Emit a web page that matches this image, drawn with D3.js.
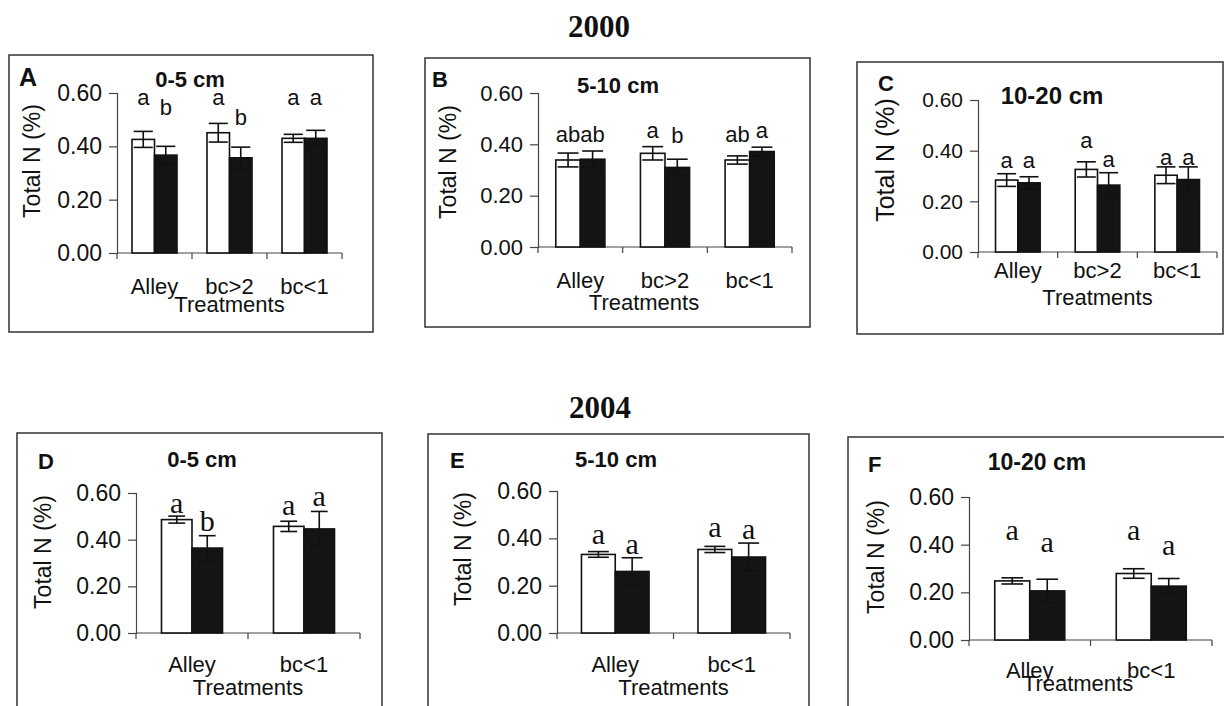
<!DOCTYPE html>
<html>
<head>
<meta charset="utf-8">
<script src="https://cdn.jsdelivr.net/npm/d3@7"></script>
<style>
  html, body { margin: 0; padding: 0; background: #fff; }
  svg { display: block; }
  text { font-family: "Liberation Sans", Arial, sans-serif; fill: #111; }
</style>
</head>
<body>
<svg id="chart" width="1224" height="706"></svg>
<script>
// ---------------- DATA ----------------
const yearTitles = ["2000", "2004"];
const panelLetters = ["A", "B", "C", "D", "E", "F"];
const depthLabels = ["0-5 cm", "5-10 cm", "10-20 cm", "0-5 cm", "5-10 cm", "10-20 cm"];
const categories2000 = ["Alley", "bc>2", "bc<1"];
const categories2004 = ["Alley", "bc<1"];
const yTickValues = [0.00, 0.20, 0.40, 0.60];
const xTitle = "Treatments";
const yTitle = "Total N (%)";

// Open (white) and solid (black) bars: means, standard errors, letters, letter heights
const openA = [0.426, 0.451, 0.430],  openErrA = [0.030, 0.035, 0.015];
const solidA = [0.367, 0.357, 0.430], solidErrA = [0.033, 0.040, 0.030];
const openLetA = ["a", "a", "a"],     solidLetA = ["b", "b", "a"];
const openLetYA = [0.555, 0.555, 0.555], solidLetYA = [0.518, 0.480, 0.555];

const openB = [0.339, 0.365, 0.339],  openErrB = [0.027, 0.026, 0.016];
const solidB = [0.342, 0.310, 0.372], solidErrB = [0.032, 0.032, 0.017];
const openLetB = ["ab", "a", "ab"],   solidLetB = ["ab", "b", "a"];
const openLetYB = [0.410, 0.424, 0.410], solidLetYB = [0.410, 0.404, 0.424];

const openC = [0.284, 0.326, 0.303],  openErrC = [0.025, 0.030, 0.033];
const solidC = [0.273, 0.264, 0.286], solidErrC = [0.024, 0.049, 0.050];
const openLetC = ["a", "a", "a"],     solidLetC = ["a", "a", "a"];
const openLetYC = [0.330, 0.409, 0.343], solidLetYC = [0.330, 0.336, 0.343];

const openD = [0.486, 0.457],  openErrD = [0.015, 0.022];
const solidD = [0.364, 0.446], solidErrD = [0.053, 0.075];
const openLetD = ["a", "a"],   solidLetD = ["b", "a"];
const openLetYD = [0.514, 0.507], solidLetYD = [0.436, 0.543];

const openE = [0.332, 0.353],  openErrE = [0.012, 0.013];
const solidE = [0.260, 0.321], solidErrE = [0.058, 0.059];
const openLetE = ["a", "a"],   solidLetE = ["a", "a"];
const openLetYE = [0.377, 0.405], solidLetYE = [0.332, 0.398];

const openF = [0.248, 0.279],  openErrF = [0.013, 0.020];
const solidF = [0.206, 0.226], solidErrF = [0.049, 0.032];
const openLetF = ["a", "a"],   solidLetF = ["a", "a"];
const openLetYF = [0.418, 0.418], solidLetYF = [0.370, 0.356];

// ---------------- LAYOUT (styling / positions) ----------------
const layout = [
  { box:[9,55,373,332],   x0:117, x1:342,  y0:253, y1:93,  grp:0.60, cap:0.85, tick:23, cat:22, catDy:41, trDy:59, trX:null, title:[190,87,22],  letter:[19,86],  yt:[40,161], ytSize:23, letFont:"sans", letSize:22 },
  { box:[425,58,810,327], x0:538, x1:792,  y0:247, y1:93,  grp:0.58, cap:0.85, tick:22, cat:22, catDy:41, trDy:63, trX:644, title:[618,93,22], letter:[432,87], yt:[456,162], ytSize:23, letFont:"sans", letSize:22 },
  { box:[857,62,1223,334],x0:978, x1:1217, y0:252, y1:100, grp:0.56, cap:0.85, tick:21, cat:22, catDy:26, trDy:53, trX:null, title:[1052,104,24],letter:[878,91], yt:[894,160], ytSize:25, letFont:"sans", letSize:22 },
  { box:[17,433,382,720], x0:136, x1:360,  y0:633, y1:493, grp:0.545,cap:0.55, tick:23, cat:22, catDy:39, trDy:62, trX:null, title:[202,467,22], letter:[38,469], yt:[51,552], ytSize:23, letFont:"serif", letSize:30 },
  { box:[428,434,809,720],x0:557, x1:790,  y0:633, y1:491, grp:0.58, cap:0.62, tick:23, cat:22, catDy:39, trDy:62, trX:null, title:[616,467,22], letter:[450,468],yt:[471,549], ytSize:23, letFont:"serif", letSize:30 },
  { box:[848,437,1230,720],x0:969,x1:1212, y0:640, y1:497, grp:0.576,cap:0.62, tick:23, cat:22, catDy:38, trDy:51, trX:1078, title:[1037,470,23],letter:[868,472],yt:[884,557], ytSize:23, letFont:"serif", letSize:30 }
];

const panelData = [
  { cats: categories2000, open: openA, openErr: openErrA, solid: solidA, solidErr: solidErrA, oL: openLetA, sL: solidLetA, oLY: openLetYA, sLY: solidLetYA },
  { cats: categories2000, open: openB, openErr: openErrB, solid: solidB, solidErr: solidErrB, oL: openLetB, sL: solidLetB, oLY: openLetYB, sLY: solidLetYB },
  { cats: categories2000, open: openC, openErr: openErrC, solid: solidC, solidErr: solidErrC, oL: openLetC, sL: solidLetC, oLY: openLetYC, sLY: solidLetYC },
  { cats: categories2004, open: openD, openErr: openErrD, solid: solidD, solidErr: solidErrD, oL: openLetD, sL: solidLetD, oLY: openLetYD, sLY: solidLetYD },
  { cats: categories2004, open: openE, openErr: openErrE, solid: solidE, solidErr: solidErrE, oL: openLetE, sL: solidLetE, oLY: openLetYE, sLY: solidLetYE },
  { cats: categories2004, open: openF, openErr: openErrF, solid: solidF, solidErr: solidErrF, oL: openLetF, sL: solidLetF, oLY: openLetYF, sLY: solidLetYF }
];

// ---------------- DRAW ----------------
const svg = d3.select("#chart");
svg.append("rect").attr("width", 1224).attr("height", 706).attr("fill", "#fff");

const yearPos = [[599, 37], [600, 418]];
yearTitles.forEach((t, i) => {
  svg.append("text").attr("x", yearPos[i][0]).attr("y", yearPos[i][1])
    .attr("text-anchor", "middle")
    .style("font-family", '"Liberation Serif", "Times New Roman", serif')
    .style("font-weight", "bold").style("font-size", "31px").text(t);
});

panelData.forEach((pd, i) => {
  const L = layout[i];
  const g = svg.append("g");

  // frame
  g.append("rect")
    .attr("x", L.box[0]).attr("y", L.box[1])
    .attr("width", L.box[2] - L.box[0]).attr("height", L.box[3] - L.box[1])
    .attr("fill", "none").attr("stroke", "#333").attr("stroke-width", 1.5);

  const x = d3.scaleBand().domain(pd.cats).range([L.x0, L.x1]).padding(0);
  const bw = x.bandwidth();
  const sub = d3.scaleBand().domain(["open", "solid"])
    .range([bw * (1 - L.grp) / 2, bw * (1 + L.grp) / 2]).padding(0);
  const y = d3.scaleLinear().domain([0, 0.6]).range([L.y0, L.y1]);

  // y axis
  const yAxis = g.append("g").attr("transform", `translate(${L.x0},0)`)
    .call(d3.axisLeft(y).tickValues(yTickValues).tickFormat(d3.format(".2f")).tickSize(8).tickPadding(7));
  yAxis.select(".domain").attr("stroke", "#444").attr("stroke-width", 1.2);
  yAxis.selectAll(".tick line").attr("stroke", "#444").attr("stroke-width", 1.2);
  yAxis.selectAll(".tick text").style("font-size", L.tick + "px")
    .style("font-family", '"Liberation Sans", Arial, sans-serif').attr("fill", "#111");

  // x axis: ticks at band boundaries
  const bounds = pd.cats.map(c => x(c)).concat([L.x1]);
  g.append("line").attr("x1", L.x0).attr("x2", L.x1).attr("y1", L.y0).attr("y2", L.y0)
    .attr("stroke", "#444").attr("stroke-width", 1.2);
  g.selectAll(".xt").data(bounds).enter().append("line")
    .attr("x1", d => d).attr("x2", d => d).attr("y1", L.y0).attr("y2", L.y0 + 6)
    .attr("stroke", "#444").attr("stroke-width", 1.2);

  // category labels
  g.selectAll(".cat").data(pd.cats).enter().append("text")
    .attr("x", d => x(d) + bw / 2).attr("y", L.y0 + L.catDy)
    .attr("text-anchor", "middle").style("font-size", L.cat + "px").text(d => d);

  // x title
  g.append("text").attr("x", L.trX !== null ? L.trX : (L.x0 + L.x1) / 2).attr("y", L.y0 + L.trDy)
    .attr("text-anchor", "middle").style("font-size", L.cat + "px").text(xTitle);

  // y title
  g.append("text").attr("transform", `translate(${L.yt[0]},${L.yt[1]}) rotate(-90)`)
    .attr("text-anchor", "middle").style("font-size", L.ytSize + "px").text(yTitle);

  // panel letter + depth
  g.append("text").attr("x", L.letter[0]).attr("y", L.letter[1])
    .style("font-weight", "bold").style("font-size", (i === 0 ? 25 : 22) + "px").text(panelLetters[i]);
  g.append("text").attr("x", L.title[0]).attr("y", L.title[1]).attr("text-anchor", "middle")
    .style("font-weight", "bold").style("font-size", L.title[2] + "px").text(depthLabels[i]);

  // bars
  const rows = pd.cats.map((c, k) => ({
    c,
    series: [
      { key: "open", v: pd.open[k], e: pd.openErr[k], lab: pd.oL[k], ly: pd.oLY[k] },
      { key: "solid", v: pd.solid[k], e: pd.solidErr[k], lab: pd.sL[k], ly: pd.sLY[k] }
    ]
  }));

  const groups = g.selectAll(".grp").data(rows).enter().append("g")
    .attr("transform", d => `translate(${x(d.c)},0)`);

  groups.selectAll("rect.bar").data(d => d.series).enter().append("rect")
    .attr("x", d => sub(d.key)).attr("width", sub.bandwidth())
    .attr("y", d => y(d.v)).attr("height", d => y(0) - y(d.v))
    .attr("fill", d => d.key === "open" ? "#fff" : "#141414")
    .attr("stroke", "#111").attr("stroke-width", 1.6);

  const capW = sub.bandwidth() * L.cap;
  const eb = groups.selectAll("g.err").data(d => d.series).enter().append("g")
    .attr("stroke", "#111").attr("stroke-width", 1.6);
  eb.append("line")
    .attr("x1", d => sub(d.key) + sub.bandwidth() / 2).attr("x2", d => sub(d.key) + sub.bandwidth() / 2)
    .attr("y1", d => y(d.v - d.e)).attr("y2", d => y(d.v + d.e));
  eb.append("line")
    .attr("x1", d => sub(d.key) + sub.bandwidth() / 2 - capW / 2).attr("x2", d => sub(d.key) + sub.bandwidth() / 2 + capW / 2)
    .attr("y1", d => y(d.v + d.e)).attr("y2", d => y(d.v + d.e));
  eb.append("line")
    .attr("x1", d => sub(d.key) + sub.bandwidth() / 2 - capW / 2).attr("x2", d => sub(d.key) + sub.bandwidth() / 2 + capW / 2)
    .attr("y1", d => y(d.v - d.e)).attr("y2", d => y(d.v - d.e));

  // significance letters
  groups.selectAll("text.sig").data(d => d.series).enter().append("text")
    .attr("x", d => sub(d.key) + sub.bandwidth() / 2).attr("y", d => y(d.ly))
    .attr("text-anchor", "middle")
    .style("font-family", L.letFont === "serif" ? '"Liberation Serif", "Times New Roman", serif' : '"Liberation Sans", Arial, sans-serif')
    .style("font-size", L.letSize + "px").text(d => d.lab);
});
</script>
</body>
</html>
